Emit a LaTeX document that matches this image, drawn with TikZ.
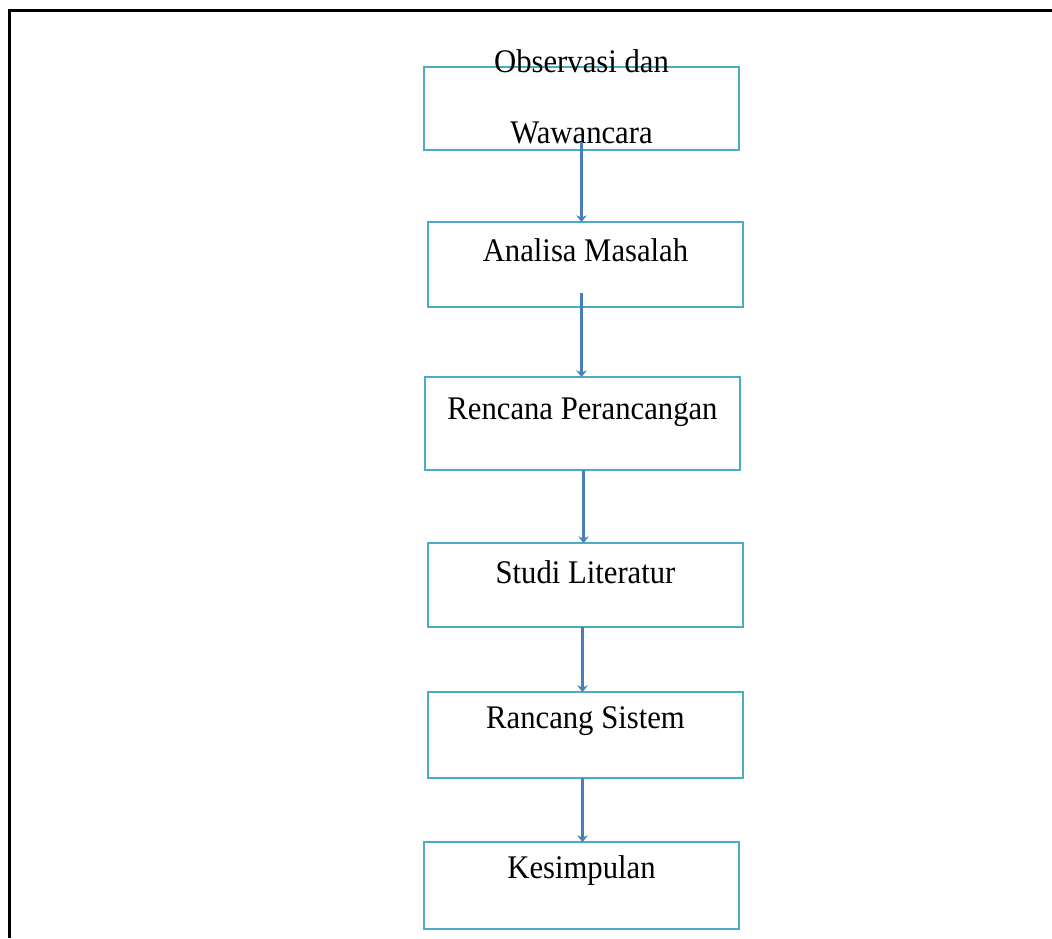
\documentclass[tikz,border=0pt]{standalone}
\usepackage{fontspec}
\setmainfont[FakeStretch=0.93]{Liberation Serif}
\usetikzlibrary{positioning}
\usetikzlibrary{arrows.meta}

\definecolor{garis}{HTML}{4BACC6}
\definecolor{panah}{HTML}{4A7EBB}

\tikzset{
    kotak/.style={rectangle, draw=garis, line width=1.5pt, minimum width=236pt, inner sep=0pt, outer sep=0pt,
        font=\fontsize{24.75}{53.25}\selectfont},
    alur/.style={-{Stealth[length=5pt,width=8pt]}, draw=panah, line width=1.6pt}
}

\begin{document}
\begin{tikzpicture}[x=0.75pt,y=-0.75pt]

    \useasboundingbox (0,0) rectangle (1052,938);

    %% bingkai
    \draw[line width=1.9pt] (1052,10.5) -- (9.5,10.5) -- (9.5,938);

    \node[kotak, anchor=north, align=center, text height=57.75pt, text depth=4.5pt] (obs) at (581.5,67)
        {Observasi dan\\Wawancara};
    \node[kotak, below=54pt of obs, xshift=3pt, text height=29.25pt, text depth=34.5pt] (analisa) {Analisa Masalah};
    \node[kotak, below=52.5pt of analisa, xshift=-2.25pt, text height=31.5pt, text depth=38.25pt] (rencana) {Rencana Perancangan};
    \node[kotak, below=54.75pt of rencana, xshift=2.25pt, text height=30pt, text depth=33pt] (studi) {Studi Literatur};
    \node[kotak, below=48.75pt of studi, text height=27pt, text depth=37.5pt] (rancang) {Rancang Sistem};
    \node[kotak, below=48pt of rancang, xshift=-3pt, text height=27pt, text depth=38.25pt] (simpul) {Kesimpulan};

    \draw[alur] ([yshift=6pt]obs.south) -- (obs.south |- analisa.north);
    \draw[alur] ([xshift=-3pt,yshift=10.5pt]analisa.south) -- ([xshift=-3pt]analisa.south |- rencana.north);
    \draw[alur] ([xshift=0.75pt]rencana.south) -- ([xshift=0.75pt]rencana.south |- studi.north);
    \draw[alur] ([xshift=-2.25pt]studi.south) -- ([xshift=-2.25pt]studi.south |- rancang.north);
    \draw[alur] ([xshift=-2.25pt]rancang.south) -- ([xshift=-2.25pt]rancang.south |- simpul.north);

\end{tikzpicture}
\end{document}
